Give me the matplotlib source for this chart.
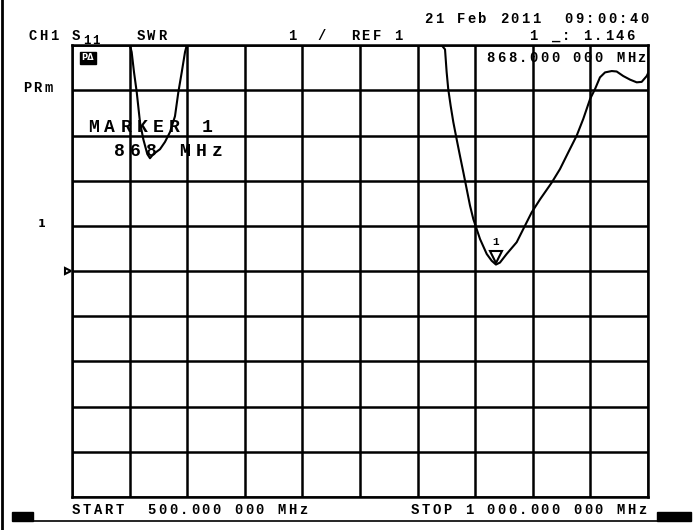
import matplotlib
matplotlib.use("Agg")
import matplotlib.pyplot as plt
import matplotlib.transforms as mtransforms
from matplotlib.patches import Rectangle
from matplotlib.lines import Line2D

# S11 SWR trace
freq_mhz = [500, 550.3, 551.8, 553.8, 556.2, 559.0, 561.9, 565.4, 567.7, 570.6,
            576.4, 580.7, 585.1, 589.4, 592.3, 595.3, 598.1, 599.6,
            820.9, 823.8, 825.2, 826.6, 828.7, 831.0, 833.9, 836.8, 839.7, 842.6,
            845.5, 848.4, 854.2, 860.0, 864.3, 868.0, 871.5, 877.3, 886.0, 891.7,
            899.0, 906.3, 916.4, 923.6, 930.8, 938.1, 943.8, 949.7, 954.0, 958.3,
            962.7, 968.5, 972.8, 978.5, 984.4, 990.2, 994.5, 998.9, 1000]
swr = [6.0, 6.0, 5.85, 5.41, 4.96, 4.30, 3.92, 3.59, 3.50, 3.59,
       3.70, 3.86, 4.08, 4.43, 4.96, 5.41, 5.85, 6.0,
       6.0, 5.91, 5.41, 5.03, 4.66, 4.30, 3.92, 3.55, 3.19, 2.82,
       2.45, 2.15, 1.71, 1.38, 1.23, 1.146, 1.19, 1.38, 1.64, 1.93,
       2.30, 2.59, 2.96, 3.26, 3.63, 4.00, 4.37, 4.81, 5.03, 5.29,
       5.40, 5.43, 5.42, 5.32, 5.24, 5.18, 5.19, 5.32, 5.38]

marker_freq = 868.0
marker_swr = 1.146
start_mhz = 500
stop_mhz = 1000
ref_value = 1
per_div = 1
ref_pos = 5  # divisions from bottom

W, H = 700, 530
fig = plt.figure(figsize=(W / 100, H / 100), dpi=100)
ax = fig.add_axes([72 / W, 1 - 497 / H, 576 / W, (497 - 45.3) / H])

ax.plot(freq_mhz, swr, color="black", lw=1.5, solid_joinstyle="round", zorder=3)
ax.set_xlim(start_mhz, stop_mhz)
ax.set_ylim(ref_value - ref_pos * per_div, ref_value + (10 - ref_pos) * per_div)
ax.set_xticks([start_mhz + i * (stop_mhz - start_mhz) / 10 for i in range(11)])
ax.set_yticks([ref_value + (i - ref_pos) * per_div for i in range(11)])
ax.tick_params(length=0, labelbottom=False, labelleft=False)
ax.grid(color="black", lw=1.8)
for s in ax.spines.values():
    s.set_linewidth(1.8)

# marker 1 triangle sitting on the trace
up7 = mtransforms.offset_copy(ax.transData, fig=fig, x=0, y=8, units="dots")
ax.plot(marker_freq, marker_swr, marker="v", ms=8, mfc="white", mec="black",
        mew=1.5, transform=up7, zorder=4)
ax.annotate("1", (marker_freq, marker_swr), xytext=(0, 23), textcoords="offset pixels",
            ha="center", va="center", fontsize=8, family="Liberation Mono",
            weight="bold", zorder=4)
# reference position arrow
left5 = mtransforms.offset_copy(ax.transData, fig=fig, x=-4, y=0, units="dots")
ax.plot(start_mhz, ref_value, marker=">", ms=5, mfc="white", mec="black", mew=1.5,
        transform=left5, clip_on=False)


def screen_text(s, x, y, pitch=10.8, size=10, **kw):
    # analyzer prints on a fixed character grid; x, y are pixels from top-left
    for i, ch in enumerate(s):
        if ch != " ":
            fig.text((x + i * pitch) / W, 1 - y / H, ch, ha="center", va="center",
                     fontsize=size, family="Liberation Mono", weight="bold", **kw)


screen_text("21 Feb 2011  09:00:40", 428.5, 19)
screen_text("CH1", 33, 36)
screen_text("S", 76.2, 36)
screen_text("11", 87, 41, pitch=9, size=9)
screen_text("SWR", 140.5, 36)
screen_text("1", 292.2, 36)
screen_text("/", 322, 36)
screen_text("REF 1", 355, 36)
screen_text("1 _: 1.146", 533.5, 36)
screen_text("868.000 000 MHz", 490.5, 58)
screen_text("PRm", 27, 88)
screen_text("MARKER 1", 93.5, 127, pitch=16.2, size=13)
screen_text("868 MHz", 119, 152, pitch=16.4, size=13)
screen_text("START  500.000 000 MHz", 76.2, 510)
screen_text("STOP 1 000.000 000 MHz", 415.2, 510)
fig.text(42 / W, 1 - 224 / H, "1", ha="center", va="center", fontsize=8, weight="bold")
fig.text(88 / W, 1 - 58 / H, "PΔ", ha="center", va="center", fontsize=6, color="white",
         weight="bold", bbox=dict(boxstyle="square,pad=0.15", fc="black", ec="black"))

# screen frame bits
fig.add_artist(Line2D([2 / W, 2 / W], [0, 1], color="black", lw=2))
fig.add_artist(Line2D([33 / W, 657 / W], [1 - 521 / H, 1 - 521 / H], color="black", lw=1.2))
fig.add_artist(Rectangle((12 / W, 1 - 521 / H), 21 / W, 9 / H, color="black"))
fig.add_artist(Rectangle((657 / W, 1 - 521 / H), 34 / W, 9 / H, color="black"))

fig.savefig("out.png", dpi=100)
